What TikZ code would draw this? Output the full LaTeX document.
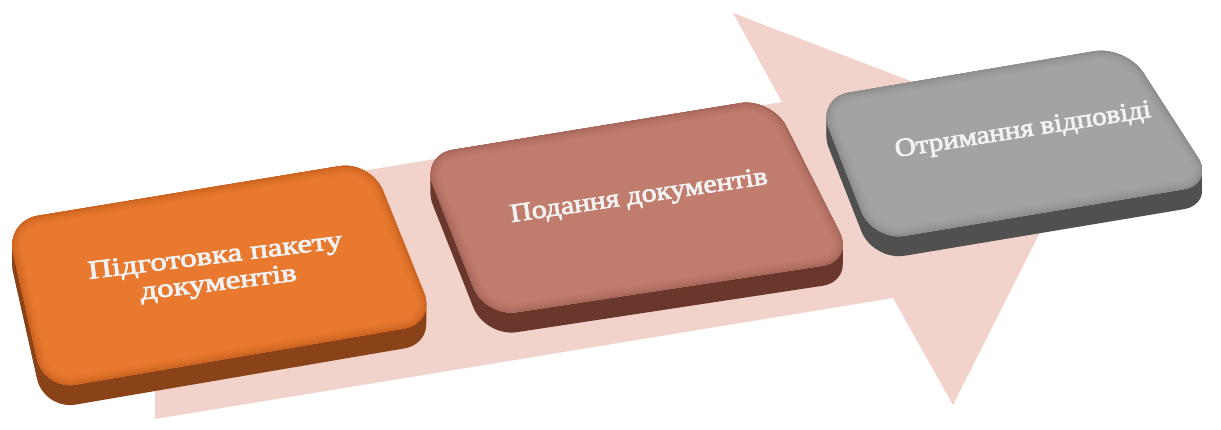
\documentclass[tikz,border=0pt]{standalone}
\usepackage{fontspec}
\setmainfont{Liberation Serif}
\usetikzlibrary{calc}
\definecolor{arrowpink}{HTML}{F2D3CB}
\definecolor{oface}{HTML}{E8792F}
\definecolor{oedge}{HTML}{C9601E}
\definecolor{oslab}{HTML}{8A4318}
\definecolor{bface}{HTML}{C07C6C}
\definecolor{bedge}{HTML}{A5655A}
\definecolor{bslab}{HTML}{6A372D}
\definecolor{gface}{HTML}{A3A3A3}
\definecolor{gedge}{HTML}{8A8A8A}
\definecolor{gslab}{HTML}{505050}
\definecolor{txtfg}{HTML}{F2F2F2}
\newcommand{\quadpath}[4]{($(#1)!0.5!(#2)$) -- (#2) -- (#3) -- (#4) -- (#1) -- cycle}
\newcommand{\emb}[1]{\special{pdf:literal direct 2 Tr 0.7 w 0.30 0.35 0.38 RG}\textcolor{txtfg}{#1}\special{pdf:literal direct 0 Tr}}
\newcommand{\slabbox}[7]{%
  \foreach \d in {0,2,...,20} {\fill[#7, rounded corners=#5, shift={(0,\d)}] \quadpath{#1}{#2}{#3}{#4};}
  \fill[#6, rounded corners=#5] \quadpath{#1}{#2}{#3}{#4};
}
\newcommand{\bevel}[7]{%
  \begin{scope}
    \clip[rounded corners=#5] \quadpath{#1}{#2}{#3}{#4};
    \foreach \w/\c in {18/12,14/25,10/40,6/60,3/85} {\draw[line width=\w, color=#7!\c!#6, rounded corners=#5] \quadpath{#1}{#2}{#3}{#4};}
  \end{scope}
}
\tikzset{
  lbl/.style={font=\fontsize{26}{27}\selectfont, align=center, inner sep=0pt},
}
\begin{document}
\begin{tikzpicture}[x=1pt,y=-1pt]
\useasboundingbox (0,0) rectangle (1221,430);
% big arrow
\fill[arrowpink] (155,205) -- (782,102) -- (733,13) -- (1083,147) -- (953,405) -- (893,298) -- (155,419) -- cycle;
% orange box
\slabbox{6,221}{371,161}{436,323}{44,390}{32}{oface}{oslab}
\bevel{6,221}{371,161}{436,323}{44,390}{32}{oface}{oedge}
% brown box
\slabbox{421,155}{772,98}{854,261}{485,317}{32}{bface}{bslab}
\bevel{421,155}{772,98}{854,261}{485,317}{32}{bface}{bedge}
% grey box
\slabbox{817,98}{1126,46}{1215,184}{873,241}{32}{gface}{gslab}
\bevel{817,98}{1126,46}{1215,184}{873,241}{32}{gface}{gedge}
% labels
\node[lbl, rotate=7, xscale=1.27] (t1) at (217,271) {\emb{Підготовка пакету}\\\emb{документів}};
\node[lbl, anchor=base, rotate=8.5, xscale=1.15] (t2) at (640,203) {\emb{Подання документів}};
\node[lbl, anchor=base, rotate=9, xscale=1.12] (t3) at (1024,137) {\emb{Отримання відповіді}};
\end{tikzpicture}
\end{document}
